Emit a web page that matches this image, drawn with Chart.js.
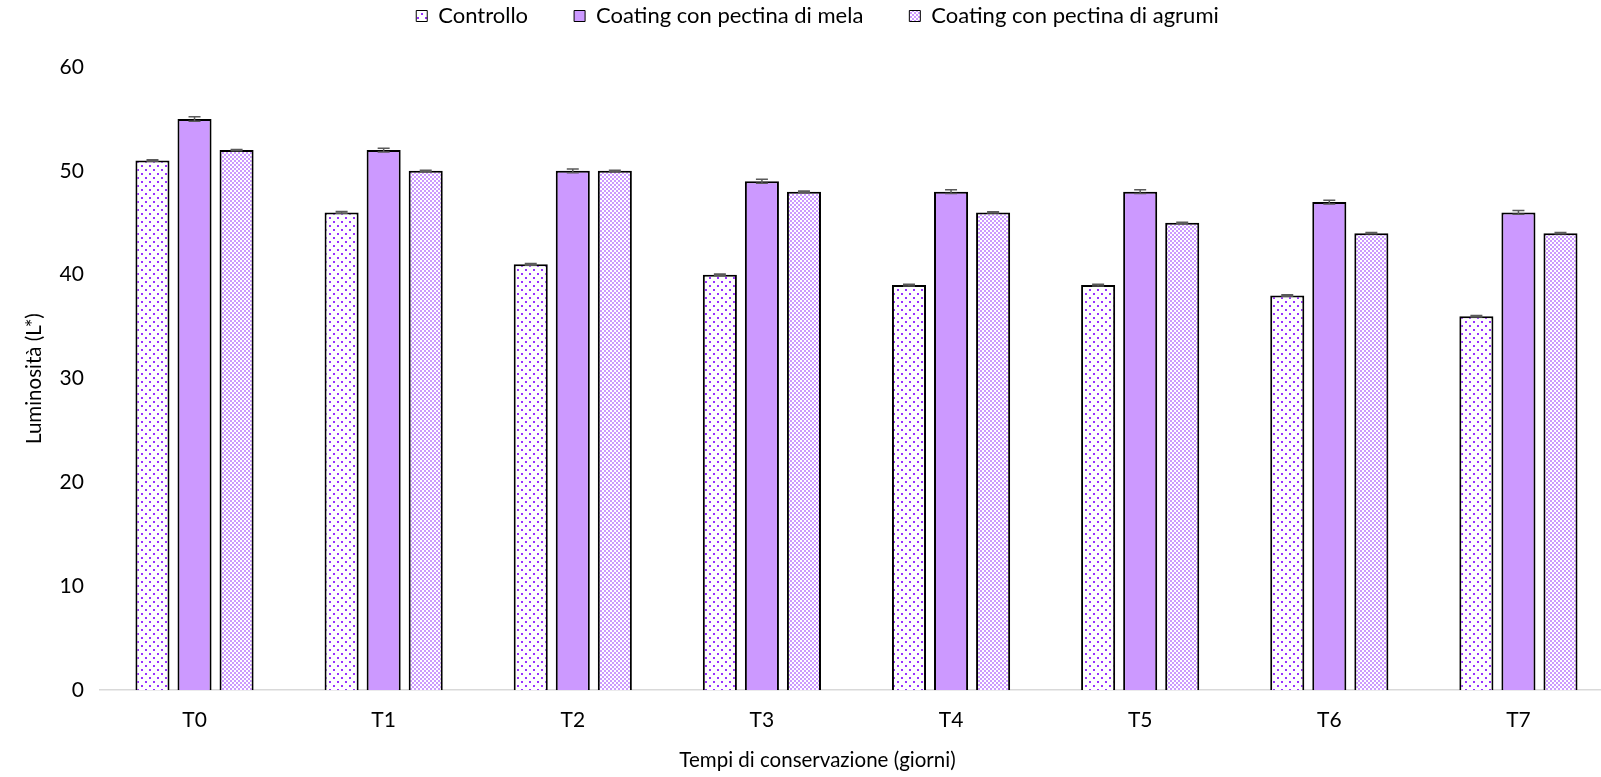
<!DOCTYPE html>
<html>
<head>
<meta charset="utf-8">
<script src="https://cdn.jsdelivr.net/npm/chart.js@4.4.1/dist/chart.umd.min.js"></script>
<style>
    html, body { margin: 0; padding: 0; background: #ffffff; overflow: hidden; }
    #wrap { position: relative; width: 1616px; height: 777px; }
</style>
</head>
<body>
<div id="wrap"><canvas id="lumChart"></canvas></div>
<script>
// ############ data ############
const categories = ["T0", "T1", "T2", "T3", "T4", "T5", "T6", "T7"];
const controllo = [51, 46, 41, 40, 39, 39, 38, 36];
const pectinaMela = [55, 52, 50, 49, 48, 48, 47, 46];
const pectinaAgrumi = [52, 50, 50, 48, 46, 45, 44, 44];
const errControllo = [0.08, 0.08, 0.08, 0.08, 0.08, 0.08, 0.08, 0.08];
const errMela = [0.22, 0.18, 0.18, 0.2, 0.18, 0.18, 0.18, 0.18];
const errAgrumi = [0.06, 0.06, 0.06, 0.06, 0.06, 0.06, 0.06, 0.06];
const yTicks = [0, 10, 20, 30, 40, 50, 60];

const FONT = "Lato, 'Open Sans', sans-serif";
const LILAC = "#cc99ff";
const DOT = "#9933ff";

// ############ patterns ############
function dotPattern() {
    const c = document.createElement("canvas");
    c.width = 8; c.height = 8;
    const g = c.getContext("2d");
    g.fillStyle = "#ffffff";
    g.fillRect(0, 0, 8, 8);
    g.fillStyle = DOT;
    g.fillRect(1, 1, 2, 2);
    g.fillRect(5, 5, 2, 2);
    return g.createPattern(c, "repeat");
}

function checkerPattern() {
    const c = document.createElement("canvas");
    c.width = 4; c.height = 4;
    const g = c.getContext("2d");
    g.fillStyle = LILAC;
    g.fillRect(0, 0, 4, 4);
    g.fillStyle = "#ffffff";
    g.fillRect(0, 0, 2, 2);
    g.fillRect(2, 2, 2, 2);
    return g.createPattern(c, "repeat");
}

// ############ error bars ############
const errorBars = {
    id: "errorBars",
    afterDatasetsDraw(chart) {
        const ctx = chart.ctx;
        const y = chart.scales.y;
        ctx.save();
        ctx.strokeStyle = "#5a5a5a";
        ctx.lineWidth = 1.5;
        chart.data.datasets.forEach((ds, i) => {
            const meta = chart.getDatasetMeta(i);
            meta.data.forEach((bar, j) => {
                const v = ds.data[j];
                const e = ds.errors[j];
                const top = y.getPixelForValue(v + e);
                const bot = y.getPixelForValue(v - e);
                const x = bar.x;
                ctx.beginPath();
                ctx.moveTo(x, top); ctx.lineTo(x, bot);
                ctx.moveTo(x - 6, top); ctx.lineTo(x + 6, top);
                ctx.moveTo(x - 6, bot); ctx.lineTo(x + 6, bot);
                ctx.stroke();
            });
        });
        ctx.restore();
    },
};

document.addEventListener("DOMContentLoaded", function () {
    const ctx = document.getElementById("lumChart").getContext("2d");

    new Chart(ctx, {
        type: "bar",
        data: {
            labels: categories,
            datasets: [
                {
                    label: "Controllo",
                    data: controllo,
                    errors: errControllo,
                    backgroundColor: dotPattern(),
                },
                {
                    label: "Coating con pectina di mela",
                    data: pectinaMela,
                    errors: errMela,
                    backgroundColor: LILAC,
                },
                {
                    label: "Coating con pectina di agrumi",
                    data: pectinaAgrumi,
                    errors: errAgrumi,
                    backgroundColor: checkerPattern(),
                },
            ].map((d) => Object.assign(d, {
                borderColor: "#000000",
                borderWidth: 2,
                borderSkipped: "bottom",
                categoryPercentage: 0.667,
                barPercentage: 0.81,
            })),
        },
        options: {
            responsive: true,
            maintainAspectRatio: false,
            animation: false,
            layout: { padding: { left: 22, right: 3, top: -41, bottom: 4 } },
            plugins: {
                legend: {
                    position: "top",
                    labels: {
                        boxWidth: 11,
                        boxHeight: 11,
                        padding: 46,
                        color: "#000000",
                        font: { family: FONT, size: 22 },
                        generateLabels: (chart) =>
                            Chart.defaults.plugins.legend.labels
                                .generateLabels(chart)
                                .map((l) => Object.assign(l, { lineWidth: 1 })),
                    },
                },
                // empty spacer between legend and plot
                subtitle: {
                    display: true,
                    position: "top",
                    weight: 500,
                    text: "",
                    font: { size: 1, lineHeight: 1 },
                    padding: { top: 15, bottom: 14 },
                },
                title: {
                    display: true,
                    position: "bottom",
                    text: "Tempi di conservazione (giorni)",
                    color: "#000000",
                    font: { family: FONT, size: 20.5, weight: "normal" },
                    padding: { top: 7, bottom: 0 },
                },
                tooltip: { enabled: false },
            },
            scales: {
                x: {
                    grid: { display: false },
                    border: { display: true, color: "#d9d9d9", width: 1.5 },
                    ticks: {
                        color: "#000000",
                        padding: 9,
                        font: { family: FONT, size: 21 },
                    },
                },
                y: {
                    min: 0,
                    max: 60,
                    afterBuildTicks: (scale) => {
                        scale.ticks = yTicks.map((v) => ({ value: v }));
                    },
                    grid: { display: false },
                    border: { display: false },
                    ticks: {
                        color: "#000000",
                        padding: 8,
                        font: { family: FONT, size: 21 },
                    },
                    title: {
                        display: true,
                        text: "Luminosità (L*)",
                        color: "#000000",
                        padding: { top: 0, bottom: 5 },
                        font: { family: FONT, size: 20.5 },
                    },
                },
            },
        },
        plugins: [errorBars],
    });
});
</script>
</body>
</html>
